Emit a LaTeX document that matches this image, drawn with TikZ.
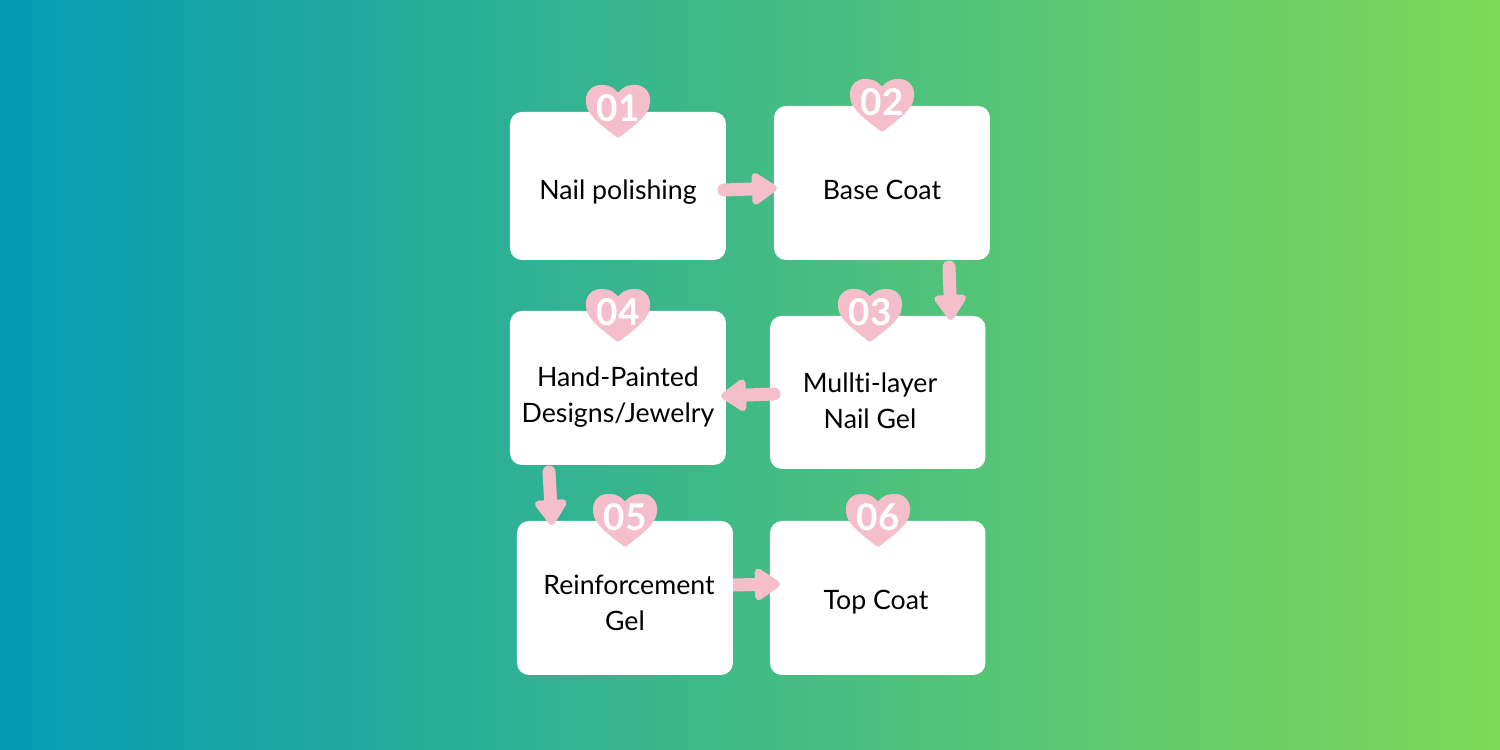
\documentclass[tikz,border=0pt]{standalone}
\usepackage{fontspec}
\setmainfont{Lato}[Ligatures=NoCommon]
\usetikzlibrary{arrows.meta}
\definecolor{gradL}{HTML}{049CB4}
\definecolor{gradR}{HTML}{7ED957}
\definecolor{pinkc}{HTML}{F4BFCB}
\tikzset{
  x=0.02cm,y=-0.02cm,
  card/.style={fill=white,rounded corners=0.24cm,inner sep=0pt,anchor=north west},
  cardtext/.style={text=black,font=\fontsize{15.2pt}{20.4pt}\selectfont,align=center,inner sep=0pt},
  flow/.style={draw=pinkc,line width=0.26cm,line cap=round,-{Triangle[width=0.72cm,length=0.56cm,round]}},
  flowflat/.style={flow,line cap=butt},
  numtext/.style={text=white,font=\fontsize{21pt}{24pt}\selectfont\bfseries,inner sep=0pt},
}
\newcommand{\cardbox}[6]{\node[card,minimum width=#4*0.02cm,minimum height=#5*0.02cm] (#1) at (#2,#3-0.4) {};}
\newcommand{\heartbadge}[4]{%
  \fill[pinkc,rounded corners=0.03cm] (#2,#3+53.5)
    .. controls (#2-11,#3+44) and (#2-32,#3+31) .. (#2-32,#3+16)
    .. controls (#2-32,#3+6) and (#2-25,#3) .. (#2-16,#3)
    .. controls (#2-8,#3) and (#2-3,#3+4) .. (#2,#3+8)
    .. controls (#2+3,#3+4) and (#2+8,#3) .. (#2+16,#3)
    .. controls (#2+25,#3) and (#2+32,#3+6) .. (#2+32,#3+16)
    .. controls (#2+32,#3+31) and (#2+11,#3+44) .. (#2,#3+53.5) -- cycle;
  \node[numtext] (#1) at (#2,#3+23) {#4};}
\begin{document}
\begin{tikzpicture}
\useasboundingbox (0,0) rectangle (1500,750);
\shade[left color=gradL,right color=gradR] (0,0) rectangle (1500,750);

\cardbox{c1}{509.6}{112}{216}{148}{}
\cardbox{c2}{773.6}{106}{216}{154}{}
\cardbox{c3}{769.6}{316}{215.5}{153}{}
\cardbox{c4}{509.6}{311}{216}{154}{}
\cardbox{c5}{516.6}{521}{216}{154}{}
\cardbox{c6}{769.6}{521}{215.5}{154}{}

\node[cardtext] (t1) at (618,192) {Nail polishing};
\node[cardtext] (t2) at (882,190) {Base Coat};
\node[cardtext] (t3) at (870,401) {Mullti-layer\\Nail Gel};
\node[cardtext] (t4) at (618,397) {Hand-Painted\\Designs/Jewelry};
\node[cardtext] (t5) at (629,603) {Reinforcement\\\hspace*{-0.16cm}Gel};
\node[cardtext] (t6) at (876,602) {Top Coat};

\coordinate (a1s) at (724,190); \coordinate (a1e) at (777,188);
\coordinate (a2s) at (949,267); \coordinate (a2e) at (951,320);
\coordinate (a3s) at (774,394); \coordinate (a3e) at (721,396);
\coordinate (a4s) at (549,472); \coordinate (a4e) at (552,525);
\coordinate (a5s) at (733,585); \coordinate (a5e) at (780,584);
\draw[flow] (a1s) -- (a1e);
\draw[flow] (a2s) -- (a2e);
\draw[flow] (a3s) -- (a3e);
\draw[flow] (a4s) -- (a4e);
\draw[flowflat] (a5s) -- (a5e);

\heartbadge{h1}{618}{85}{01}
\heartbadge{h2}{882}{79}{02}
\heartbadge{h3}{870}{289}{03}
\heartbadge{h4}{618}{289}{04}
\heartbadge{h5}{625}{494}{05}
\heartbadge{h6}{878}{494}{06}
\end{tikzpicture}
\end{document}
